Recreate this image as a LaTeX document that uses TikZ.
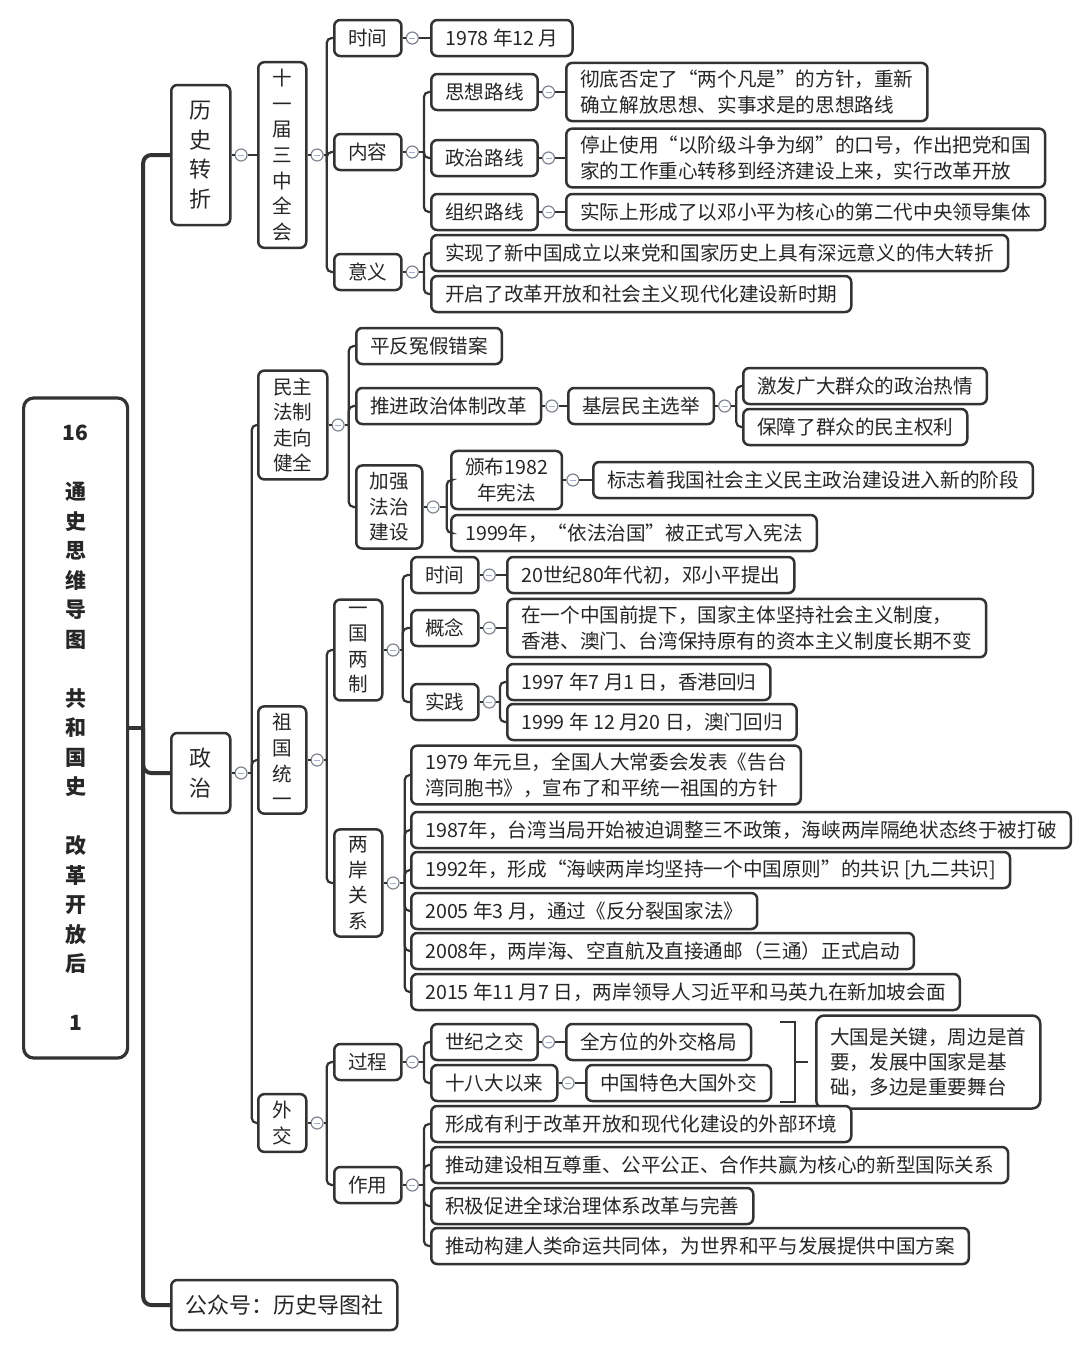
\documentclass[tikz,border=0pt]{standalone}
\usepackage{fontspec}
\setmainfont{Noto Sans CJK SC}
\usetikzlibrary{positioning}
\definecolor{ink}{HTML}{262626}
\definecolor{rim}{HTML}{333333}
\definecolor{knobrim}{HTML}{7F858F}
\definecolor{knobbar}{HTML}{A3AFCF}
% knob, stub length, children
\newcommand{\fork}[3]{%
  \draw[twig] (#1.east) -- ++(#2,0) coordinate (#1j);
  \foreach \kid in {#3} {\draw[twig] (#1j) |- (\kid.west);}
}
\tikzset{
  box/.style={draw=rim, line width=1.25pt, rounded corners=3pt, fill=white, text=ink,
    font=\fontsize{9.8}{13}\selectfont, inner xsep=7pt, inner ysep=3.5pt,
    minimum height=18pt, align=left, anchor=west},
  col/.style={box, align=center, font=\fontsize{9.8}{12.8}\selectfont,
    inner xsep=0pt, minimum width=24pt},
  head/.style={box, align=center, font=\fontsize{11}{14.75}\selectfont,
    inner xsep=0pt, minimum width=29.5pt},
  knob/.style={circle, draw=knobrim, fill=white, line width=0.6pt, minimum size=6pt,
    inner sep=0pt, right=1.5pt of #1,
    path picture={\draw[knobbar, line width=0.5pt]
      ([xshift=-1.5pt]path picture bounding box.center) --
      ([xshift=1.5pt]path picture bounding box.center);}},
  twig/.style={draw=rim, line width=1.1pt, rounded corners=2.5pt},
  trunk/.style={draw=rim, line width=2pt, rounded corners=4pt},
}

\begin{document}
\begin{tikzpicture}[x=0.5pt,y=-0.5pt]
  \useasboundingbox (0,0) rectangle (1080,1351);

  % root and first level
  \node[head, font=\bfseries\fontsize{10.5}{14.75}\selectfont, minimum width=52pt,
    minimum height=330pt, rounded corners=5pt, line width=1.6pt] (root) at (22,728)
    {16\\[14.75pt]通\\史\\思\\维\\导\\图\\[14.75pt]共\\和\\国\\史\\[14.75pt]改\\革\\开\\放\\后\\[14.75pt]1};
  \node[head, minimum height=70pt] (turn) at (170,155) {历\\史\\转\\折};
  \node[head, minimum height=40pt] (pol) at (170,773) {政\\治};
  \node[box, font=\fontsize{11}{14}\selectfont, minimum height=25pt] (sign) at (170,1305) {公众号：历史导图社};
  \draw[trunk] (root.east) -- ++(14,0) coordinate (rootj);
  \foreach \kid in {turn,pol,sign} {\draw[trunk] (rootj) |- (\kid.west);}

  % 历史转折
  \node[knob=turn] (kTurn) {};
  \node[col] (plen) at (257,155) {十\\一\\届\\三\\中\\全\\会};
  \node[knob=plen] (kPlen) {};
  \node[box] (plTime) at (333,38) {时间};
  \node[box] (plCont) at (333,152) {内容};
  \node[box] (plMean) at (333,272) {意义};
  \node[knob=plTime] (kPlTime) {};
  \node[box] (date) at (430,38) {1978 年12 月};
  \node[knob=plCont] (kPlCont) {};
  \node[box] (idea) at (430,92) {思想路线};
  \node[box] (polLine) at (430,158) {政治路线};
  \node[box] (orgLine) at (430,212) {组织路线};
  \node[knob=idea] (kIdea) {};
  \node[knob=polLine] (kPolLine) {};
  \node[knob=orgLine] (kOrgLine) {};
  \node[box] (ideaTx) at (565,92) {彻底否定了“两个凡是”的方针，重新\\确立解放思想、实事求是的思想路线};
  \node[box] (polTx) at (565,158) {停止使用“以阶级斗争为纲”的口号，作出把党和国\\家的工作重心转移到经济建设上来，实行改革开放};
  \node[box] (orgTx) at (565,212) {实际上形成了以邓小平为核心的第二代中央领导集体};
  \node[knob=plMean] (kPlMean) {};
  \node[box] (mean1) at (430,253) {实现了新中国成立以来党和国家历史上具有深远意义的伟大转折};
  \node[box] (mean2) at (430,294) {开启了改革开放和社会主义现代化建设新时期};

  % 政治
  \node[knob=pol] (kPol) {};
  \node[col, minimum width=34.5pt] (demo) at (257,425) {民主\\法制\\走向\\健全};
  \node[col] (unify) at (257,760) {祖\\国\\统\\一};
  \node[col] (dipl) at (257,1123) {外\\交};

  % 民主法制走向健全
  \node[knob=demo] (kDemo) {};
  \node[box] (redress) at (355,346) {平反冤假错案};
  \node[box] (reform) at (355,406) {推进政治体制改革};
  \node[col, minimum width=33pt] (law) at (355,507) {加强\\法治\\建设};
  \node[knob=reform] (kReform) {};
  \node[box] (grass) at (567,406) {基层民主选举};
  \node[knob=grass] (kGrass) {};
  \node[box] (grass1) at (742,386) {激发广大群众的政治热情};
  \node[box] (grass2) at (742,427) {保障了群众的民主权利};
  \node[knob=law] (kLaw) {};
  \node[box, align=center] (consti) at (450,480) {颁布1982\\年宪法};
  \node[knob=consti] (kConsti) {};
  \node[box] (constiTx) at (592,480) {标志着我国社会主义民主政治建设进入新的阶段};
  \node[box] (rule) at (450,533) {1999年，“依法治国”被正式写入宪法};

  % 祖国统一
  \node[knob=unify] (kUnify) {};
  \node[col] (ocs) at (333,650) {一\\国\\两\\制};
  \node[col] (strait) at (333,883) {两\\岸\\关\\系};
  \node[knob=ocs] (kOcs) {};
  \node[box] (ocsTime) at (410,575) {时间};
  \node[box] (ocsIdea) at (410,628) {概念};
  \node[box] (ocsPrac) at (410,702) {实践};
  \node[knob=ocsTime] (kOcsTime) {};
  \node[knob=ocsIdea] (kOcsIdea) {};
  \node[knob=ocsPrac] (kOcsPrac) {};
  \node[box] (ocsTimeTx) at (506,575) {20世纪80年代初，邓小平提出};
  \node[box] (ocsIdeaTx) at (506,628) {在一个中国前提下，国家主体坚持社会主义制度，\\香港、澳门、台湾保持原有的资本主义制度长期不变};
  \node[box] (hk) at (506,682) {1997 年7 月1 日，香港回归};
  \node[box] (macao) at (506,722) {1999 年 12 月20 日，澳门回归};
  \node[knob=strait] (kStrait) {};
  \node[box] (s1) at (410,775) {1979 年元旦，全国人大常委会发表《告台\\湾同胞书》，宣布了和平统一祖国的方针};
  \node[box] (s2) at (410,830) {1987年，台湾当局开始被迫调整三不政策，海峡两岸隔绝状态终于被打破};
  \node[box] (s3) at (410,870) {1992年，形成“海峡两岸均坚持一个中国原则”的共识 [九二共识]};
  \node[box] (s4) at (410,911) {2005 年3 月，通过《反分裂国家法》};
  \node[box] (s5) at (410,951) {2008年，两岸海、空直航及直接通邮（三通）正式启动};
  \node[box] (s6) at (410,992) {2015 年11 月7 日，两岸领导人习近平和马英九在新加坡会面};

  % 外交
  \node[knob=dipl] (kDipl) {};
  \node[box] (proc) at (333,1062) {过程};
  \node[box] (role) at (333,1185) {作用};
  \node[knob=proc] (kProc) {};
  \node[box] (century) at (430,1042) {世纪之交};
  \node[box] (since18) at (430,1083) {十八大以来};
  \node[knob=century] (kCentury) {};
  \node[knob=since18] (kSince18) {};
  \node[box] (omni) at (565,1042) {全方位的外交格局};
  \node[box] (great) at (585,1083) {中国特色大国外交};
  \node[box, rounded corners=4pt, minimum height=46.5pt, font=\fontsize{9.8}{12.5}\selectfont] (summ) at (815,1062)
    {大国是关键，周边是首\\要，发展中国家是基\\础，多边是重要舞台};
  \node[knob=role] (kRole) {};
  \node[box] (e1) at (430,1124) {形成有利于改革开放和现代化建设的外部环境};
  \node[box] (e2) at (430,1165) {推动建设相互尊重、公平公正、合作共赢为核心的新型国际关系};
  \node[box] (e3) at (430,1206) {积极促进全球治理体系改革与完善};
  \node[box] (e4) at (430,1246) {推动构建人类命运共同体，为世界和平与发展提供中国方案};

  % connectors
  \foreach \p/\k in {turn/kTurn, plen/kPlen, plTime/kPlTime, plCont/kPlCont, plMean/kPlMean,
      idea/kIdea, polLine/kPolLine, orgLine/kOrgLine, pol/kPol, demo/kDemo, reform/kReform,
      grass/kGrass, law/kLaw, consti/kConsti, unify/kUnify, ocs/kOcs, ocsTime/kOcsTime,
      ocsIdea/kOcsIdea, ocsPrac/kOcsPrac, strait/kStrait, dipl/kDipl, proc/kProc,
      century/kCentury, since18/kSince18, role/kRole}
    {\draw[twig] (\p.east) -- (\k.west);}
  \foreach \k/\c in {kTurn/plen, kPlTime/date, kIdea/ideaTx, kPolLine/polTx, kOrgLine/orgTx,
      kReform/grass, kConsti/constiTx, kOcsTime/ocsTimeTx, kOcsIdea/ocsIdeaTx,
      kCentury/omni, kSince18/great}
    {\draw[twig] (\k.east) -- (\c.west);}
  \fork{kPlen}{3}{plTime,plCont,plMean}
  \fork{kPlCont}{5}{idea,polLine,orgLine}
  \fork{kPlMean}{5}{mean1,mean2}
  \fork{kPol}{4}{demo,unify,dipl}
  \fork{kDemo}{4}{redress,reform,law}
  \fork{kGrass}{5}{grass1,grass2}
  \fork{kLaw}{7}{consti,rule}
  \fork{kUnify}{3}{ocs,strait}
  \fork{kOcs}{3}{ocsTime,ocsIdea,ocsPrac}
  \fork{kOcsPrac}{4}{hk,macao}
  \fork{kStrait}{5}{s1,s2,s3,s4,s5,s6}
  \fork{kDipl}{3}{proc,role}
  \fork{kProc}{5}{century,since18}
  \fork{kRole}{5}{e1,e2,e3,e4}

  % bracket to the summary
  \coordinate (brTop) at (780,1022);
  \coordinate (brBot) at (780,1102);
  \draw[twig, rounded corners=0pt, line width=1.3pt] (brTop) -- ++(15,0) coordinate (brMid) |- (brBot);
  \draw[twig] (brMid |- summ.west) -- ([xshift=-3.5pt]summ.west);
\end{tikzpicture}
\end{document}
